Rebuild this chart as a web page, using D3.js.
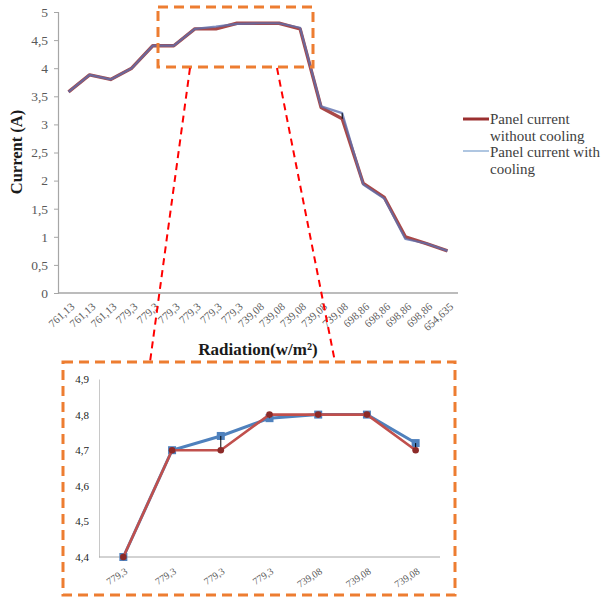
<!DOCTYPE html>
<html>
<head>
<meta charset="utf-8">
<script src="https://cdn.jsdelivr.net/npm/d3@7/dist/d3.min.js"></script>
<style>
  html, body { margin: 0; padding: 0; background: #fff; }
  svg text { font-family: "Liberation Serif", "Times New Roman", serif; }
</style>
</head>
<body>
<svg id="chart" width="608" height="598"></svg>
<script>
// Radiation readings (x categories)
const radiation = ["761,13","761,13","761,13","779,3","779,3","779,3","779,3","779,3","779,3",
  "739,08","739,08","739,08","739,08","739,08","698,86","698,86","698,86","698,86","654,635"];
// Panel current without cooling (A)
const currentNoCooling = [3.58,3.88,3.8,4.0,4.4,4.4,4.7,4.7,4.8,4.8,4.8,4.7,3.3,3.1,1.95,1.7,1.0,0.88,0.75];
// Panel current with cooling (A)
const currentCooling   = [3.58,3.88,3.8,4.0,4.4,4.4,4.7,4.74,4.79,4.8,4.8,4.72,3.32,3.2,1.93,1.68,0.96,0.88,0.75];
// Main axis ticks
const mainTicks = [0,0.5,1,1.5,2,2.5,3,3.5,4,4.5,5];
// Detail view: category range and ticks
const detailStart = 5, detailEnd = 12;
const detailTicks = [4.4,4.5,4.6,4.7,4.8,4.9];
const seriesNames = ["Panel current", "without cooling", "Panel current with", "cooling"];

const svg = d3.select("#chart");
const fmt = v => String(v).replace(".", ",");
const axisGrey = "#a6a6a6";
const serif = "'Liberation Serif', 'Times New Roman', serif";

// ---------- main chart ----------
const x = d3.scalePoint().domain(d3.range(radiation.length)).range([58, 458]).padding(0.5);
const y = d3.scaleLinear().domain([0, 5]).range([293, 12]);

const gy = svg.append("g").attr("transform", "translate(58,0)")
  .call(d3.axisLeft(y).tickValues(mainTicks).tickFormat(fmt).tickSizeOuter(0).tickSize(4).tickPadding(6));
gy.attr("font-family", serif);
gy.select(".domain").attr("stroke", axisGrey).attr("stroke-width", 1.2);
gy.selectAll(".tick line").attr("stroke", axisGrey);
gy.selectAll(".tick text").attr("fill", "#595959").style("font-size", "13.5px");

const gx = svg.append("g").attr("transform", "translate(0,293)")
  .call(d3.axisBottom(x).tickFormat(i => radiation[i]).tickSize(0).tickSizeOuter(0));
gx.attr("font-family", serif);
gx.select(".domain").attr("stroke", axisGrey).attr("stroke-width", 1.5).attr("d", "M58,0H458");
gx.selectAll(".tick text")
  .attr("fill", "#595959").style("font-size", "11px")
  .attr("text-anchor", "end").attr("dy", "0.3em")
  .attr("transform", "translate(2,10) rotate(-42)");

svg.append("text").attr("transform", "translate(22,152) rotate(-90)")
  .attr("text-anchor", "middle").attr("font-weight", "bold").attr("font-size", 16.5).attr("fill", "#1a1a1a")
  .text("Current (A)");
svg.append("text").attr("x", 258).attr("y", 355)
  .attr("text-anchor", "middle").attr("font-weight", "bold").attr("font-size", 17).attr("fill", "#1a1a1a")
  .text("Radiation(w/m²)");

const line = d3.line().x((d, i) => x(i)).y(d => y(d));
svg.append("path").datum(currentNoCooling).attr("d", line)
  .attr("fill", "none").attr("stroke", "#a94848").attr("stroke-width", 3.4).attr("stroke-linejoin", "round");
svg.append("path").datum(currentCooling).attr("d", line)
  .attr("fill", "none").attr("stroke", "#5d6fae").attr("stroke-opacity", 0.8).attr("stroke-width", 2.2)
  .attr("stroke-linejoin", "round");
// high-low lines where the two series differ
svg.append("g").selectAll("line")
  .data(d3.range(radiation.length).filter(i => Math.abs(currentCooling[i] - currentNoCooling[i]) > 0.05))
  .join("line")
  .attr("x1", i => x(i)).attr("x2", i => x(i))
  .attr("y1", i => y(currentCooling[i])).attr("y2", i => y(currentNoCooling[i]))
  .attr("stroke", "#000").attr("stroke-width", 1);

// legend
const legend = svg.append("g").attr("font-size", 15).attr("fill", "#404040");
legend.append("line").attr("x1", 463).attr("x2", 489).attr("y1", 119).attr("y2", 119)
  .attr("stroke", "#9b2f2f").attr("stroke-width", 3);
legend.append("line").attr("x1", 463).attr("x2", 489).attr("y1", 151).attr("y2", 151)
  .attr("stroke", "#95b3d7").attr("stroke-width", 1.5);
legend.selectAll("text").data(seriesNames).join("text")
  .attr("x", 490).attr("y", (d, i) => 124 + i * 16.7).text(d => d);

// ---------- detail chart ----------
const idx = d3.range(detailStart, detailEnd);
const xd = d3.scalePoint().domain(idx).range([99, 440]).padding(0.5);
const yd = d3.scaleLinear().domain([4.4, 4.9]).range([557, 379]);

const gyd = svg.append("g").attr("transform", "translate(99,0)")
  .call(d3.axisLeft(yd).tickValues(detailTicks).tickFormat(fmt).tickSize(0).tickPadding(10));
gyd.attr("font-family", serif);
gyd.select(".domain").attr("stroke", "#c8c8c8").attr("stroke-width", 1);
gyd.selectAll(".tick text").attr("fill", "#222").style("font-size", "11px");

const gxd = svg.append("g").attr("transform", "translate(0,557)")
  .call(d3.axisBottom(xd).tickFormat(i => radiation[i]).tickSize(0).tickSizeOuter(0));
gxd.attr("font-family", serif);
gxd.select(".domain").attr("stroke", axisGrey).attr("stroke-width", 1).attr("d", "M99,0H440");
gxd.selectAll(".tick text")
  .attr("fill", "#595959").style("font-size", "10px")
  .attr("text-anchor", "end").attr("dy", "0.3em")
  .attr("transform", "translate(1,11) rotate(-33)");

const lineD = d3.line().x(i => xd(i));
svg.append("path").attr("d", lineD.y(i => yd(currentCooling[i]))(idx))
  .attr("fill", "none").attr("stroke", "#4f81bd").attr("stroke-width", 3);
svg.append("g").selectAll("rect").data(idx).join("rect")
  .attr("x", i => xd(i) - 4).attr("y", i => yd(currentCooling[i]) - 4)
  .attr("width", 8).attr("height", 8).attr("fill", "#4f81bd");
svg.append("g").selectAll("line")
  .data(idx.filter(i => Math.abs(currentCooling[i] - currentNoCooling[i]) > 0.005))
  .join("line")
  .attr("x1", i => xd(i)).attr("x2", i => xd(i))
  .attr("y1", i => yd(currentCooling[i])).attr("y2", i => yd(currentNoCooling[i]))
  .attr("stroke", "#000").attr("stroke-width", 1);
svg.append("path").attr("d", lineD.y(i => yd(currentNoCooling[i]))(idx))
  .attr("fill", "none").attr("stroke", "#c0504d").attr("stroke-width", 2.6);
svg.append("g").selectAll("circle").data(idx).join("circle")
  .attr("cx", i => xd(i)).attr("cy", i => yd(currentNoCooling[i])).attr("r", 3.3)
  .attr("fill", "#8c2a28");

// ---------- zoom callouts ----------
svg.append("rect").attr("x", 158).attr("y", 7).attr("width", 155).attr("height", 60)
  .attr("fill", "none").attr("stroke", "#ed7d31").attr("stroke-width", 3).attr("stroke-dasharray", "10,6");
svg.append("rect").attr("x", 63).attr("y", 362).attr("width", 392).attr("height", 233)
  .attr("fill", "none").attr("stroke", "#ed7d31").attr("stroke-width", 3).attr("stroke-dasharray", "10,6");
svg.append("line").attr("x1", 190).attr("y1", 68).attr("x2", 150).attr("y2", 362)
  .attr("stroke", "#ff0000").attr("stroke-width", 2).attr("stroke-dasharray", "7,5");
svg.append("line").attr("x1", 277).attr("y1", 68).attr("x2", 335).attr("y2", 362)
  .attr("stroke", "#ff0000").attr("stroke-width", 2).attr("stroke-dasharray", "7,5");
</script>
</body>
</html>
